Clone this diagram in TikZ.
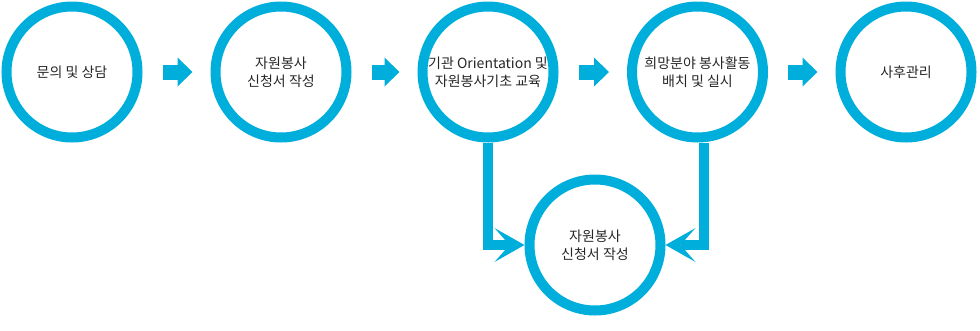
\documentclass[tikz,border=0pt]{standalone}
\usepackage{fontspec}
\setmainfont{Noto Sans CJK KR}
\usetikzlibrary{arrows.meta}
\definecolor{ringblue}{RGB}{0,174,219}
\definecolor{textgray}{RGB}{38,38,38}

\begin{document}
\begin{tikzpicture}[
    x=1pt, y=-1pt,
    every node/.style={font=\fontsize{14pt}{18pt}\selectfont, text=textgray},
    stage/.style={circle, draw=ringblue, line width=10pt, minimum size=131pt,
        inner sep=0pt, align=center},
    flow/.style={ringblue, line width=15pt,
        -{Triangle[length=15pt, width=29pt, line width=0pt]},
        shorten <=20pt, shorten >=18pt},
    link/.style={ringblue, line width=10pt,
        -{Stealth[length=30pt, width=34pt, inset=15pt, line width=0pt]}},
]
\useasboundingbox (0,0) rectangle (980,330);

% === Process stages (top row) ===
\node[stage] (c1) at (72,72) {문의 및 상담};
\node[stage] (c2) at (281,72) {자원봉사\\신청서 작성};
\node[stage] (c3) at (488,72) {기관 Orientation 및\\자원봉사기초 교육};
\node[stage] (c4) at (697.5,72) {희망분야 봉사활동\\배치 및 실시};
\node[stage] (c5) at (906,72) {사후관리};

% === Bottom stage ===
\node[stage] (c6) at (595,245) {자원봉사\\신청서 작성};

% === Flow arrows ===
\draw[flow] (c1) -- (c2);
\draw[flow] (c2) -- (c3);
\draw[flow] (c3) -- (c4);
\draw[flow] (c4) -- (c5);

% === Links to bottom stage ===
\draw[link] (c3.south) |- (c6.west);
\draw[link] ([xshift=6pt]c4.south) |- (c6.east);

\end{tikzpicture}
\end{document}
